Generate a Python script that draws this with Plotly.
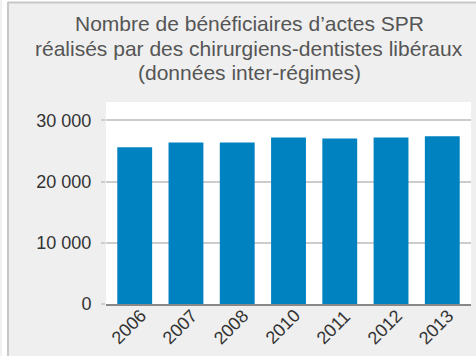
import plotly.graph_objects as go

# Données
years = ["2006", "2007", "2008", "2010", "2011", "2012", "2013"]
beneficiaires = [25600, 26400, 26400, 27200, 27050, 27200, 27400]
tick_vals = [0, 10000, 20000, 30000]
tick_text = ["0", "10 000", "20 000", "30 000"]
title_lines = [
    "Nombre de bénéficiaires d’actes SPR",
    "réalisés par des chirurgiens-dentistes libéraux",
    "(données inter-régimes)",
]

W, H = 476, 356
ML, MR, MT, MB = 106, 5, 102, 52
PW = W - ML - MR
PH = H - MT - MB


def px_x(x):
    return (x - ML) / PW


def px_y(y):
    return 1 - (y - MT) / PH


fig = go.Figure(
    go.Bar(
        x=list(range(len(years))),
        y=beneficiaires,
        marker=dict(color="#0082c1", line=dict(width=0)),
        width=0.68,
    )
)

annotations = []
# title, one line per annotation
for i, line in enumerate(title_lines):
    annotations.append(dict(
        text=line, showarrow=False,
        xref="paper", yref="paper",
        x=px_x(249), y=px_y(23.5 + 24.5 * i),
        xanchor="center", yanchor="middle",
        font=dict(size=21, color="#555555"),
    ))
# rotated category labels under the bars
for i, yr in enumerate(years):
    annotations.append(dict(
        text=yr, showarrow=False,
        xref="x", yref="paper",
        x=i, xshift=-6, y=px_y(327),
        xanchor="center", yanchor="middle",
        textangle=-45,
        font=dict(size=18, color="#333333"),
    ))

fig.update_layout(
    width=W,
    height=H,
    margin=dict(l=ML, r=MR, t=MT, b=MB),
    paper_bgcolor="#efefef",
    plot_bgcolor="#ffffff",
    font=dict(family="Liberation Sans, Arial, sans-serif", color="#333333", size=18),
    showlegend=False,
    annotations=annotations,
    shapes=[
        # white margin strip on the left and top of the panel
        dict(type="rect", xref="paper", yref="paper",
             x0=px_x(0), x1=px_x(8), y0=px_y(H), y1=px_y(0),
             fillcolor="#ffffff", line=dict(width=0), layer="below"),
        dict(type="rect", xref="paper", yref="paper",
             x0=px_x(0), x1=px_x(W), y0=px_y(2), y1=px_y(0),
             fillcolor="#ffffff", line=dict(width=0), layer="below"),
        # panel border
        dict(type="line", xref="paper", yref="paper",
             x0=px_x(8), x1=px_x(8), y0=px_y(H), y1=px_y(2),
             line=dict(color="#c8c8c8", width=2)),
        dict(type="line", xref="paper", yref="paper",
             x0=px_x(8), x1=px_x(W), y0=px_y(2.5), y1=px_y(2.5),
             line=dict(color="#c8c8c8", width=2)),
        dict(type="line", xref="paper", yref="paper",
             x0=px_x(1), x1=px_x(1), y0=px_y(H), y1=px_y(0),
             line=dict(color="#e2e2e2", width=1)),
    ],
)

fig.update_xaxes(
    range=[-0.56, 6.56],
    showticklabels=False,
    showgrid=False,
    zeroline=False,
    showline=True,
    linecolor="#888888",
    linewidth=2,
    ticks="",
    fixedrange=True,
)
fig.update_yaxes(
    range=[0, 33000],
    tickvals=tick_vals,
    ticktext=tick_text,
    showgrid=True,
    gridcolor="#cccccc",
    gridwidth=2,
    zeroline=False,
    ticks="outside",
    ticklen=4,
    tickcolor="#cccccc",
    tickwidth=2,
    ticklabelstandoff=6,
    tickfont=dict(size=18, color="#333333"),
    fixedrange=True,
)

fig.write_html("out.html", config={"displayModeBar": False})
